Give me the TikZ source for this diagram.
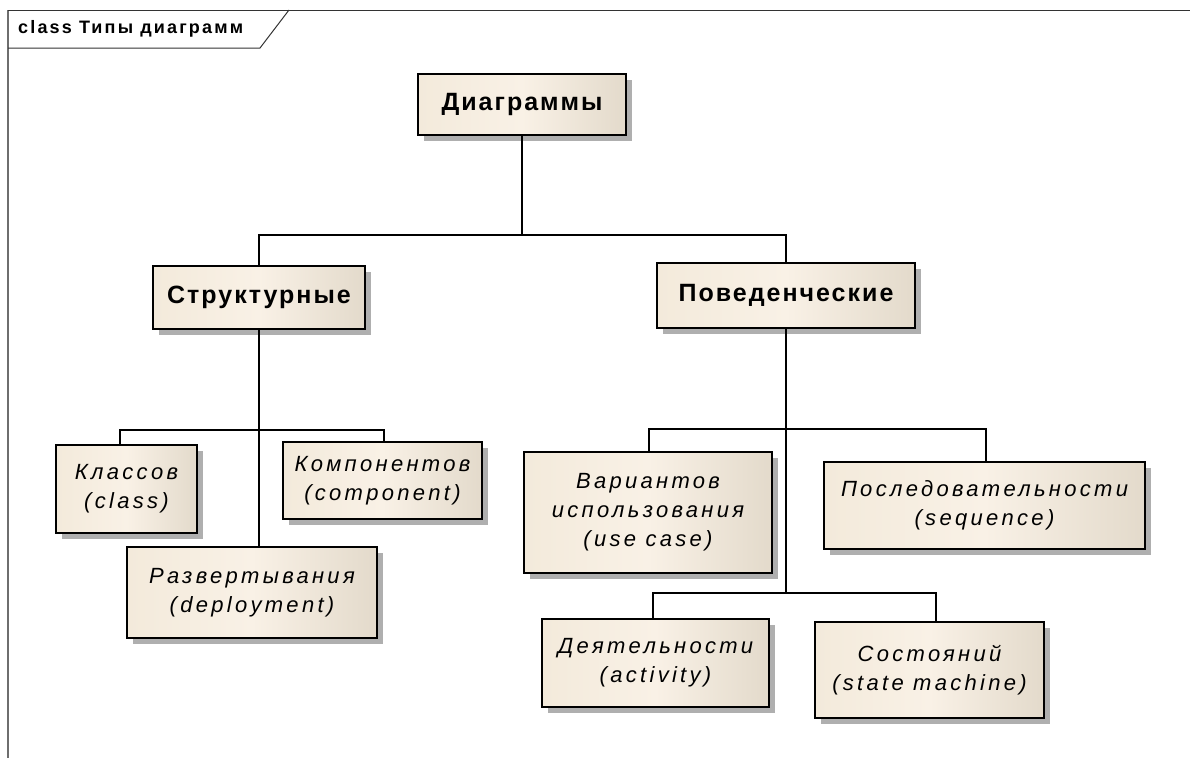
\documentclass[tikz,border=0pt]{standalone}
\usepackage{fontspec}
\setmainfont{Liberation Sans}
\newfontfamily\spfont[LetterSpace=8]{Liberation Sans}
\newfontfamily\ttlfont[LetterSpace=12]{Liberation Sans}
\newfontfamily\itfont[LetterSpace=15]{Liberation Sans}
\usetikzlibrary{shadows}
\definecolor{boxL}{HTML}{F3EADB}
\definecolor{boxM}{HTML}{F9F1E6}
\definecolor{boxR}{HTML}{E3DACB}
\definecolor{shad}{HTML}{AFAFAF}
\definecolor{frameg}{HTML}{6E6E6E}
\tikzset{
  umlbox/.style={draw=black, line width=1.6pt, left color=boxL, right color=boxR, middle color=boxM,
    drop shadow={shadow xshift=6pt, shadow yshift=-6pt, fill=shad, opacity=1},
    inner sep=0pt, align=center},
  boldbox/.style={umlbox, font=\spfont\bfseries\fontsize{25}{30}\selectfont},
  itbox/.style={umlbox, font=\itfont\itshape\fontsize{22}{29}\selectfont},
  conn/.style={draw=black, line width=1.6pt},
}
\begin{document}
\begin{tikzpicture}[x=1pt,y=-1pt]
\useasboundingbox (0,0) rectangle (1190,758);
% frame
\draw[frameg, line width=2pt] (8,10) -- (8,758);
\draw[black!80, line width=1pt] (8,10) -- (1190,10);
\draw[black!80, line width=1pt] (8,48) -- (260,48) -- (289,10);
\node[anchor=west, font=\ttlfont\bfseries\fontsize{18}{22}\selectfont, inner sep=0pt] (title) at (18,29) {class Типы диаграмм};
% nodes
\node[boldbox, minimum width=208pt, minimum height=61pt] (diag) at (522,104.5) {Диаграммы};
\node[boldbox, minimum width=212pt, minimum height=63pt] (struct) at (259,297.5) {Структурные};
\node[boldbox, minimum width=258pt, minimum height=65pt] (behav) at (786,295.5) {Поведенческие};
\node[itbox, minimum width=141pt, minimum height=88pt] (cls) at (126.5,489) {Классов\\(class)};
\node[itbox, minimum width=199pt, minimum height=77pt] (comp) at (382.5,480.5) {Компонентов\\(component)};
\node[itbox, minimum width=250pt, minimum height=91pt] (deploy) at (252,592.5) {Развертывания\\(deployment)};
\node[itbox, minimum width=248pt, minimum height=121pt] (uc) at (648,512.5) {Вариантов\\использования\\(use case)};
\node[itbox, minimum width=321pt, minimum height=87pt] (seq) at (984.5,505.5) {Последовательности\\(sequence)};
\node[itbox, minimum width=227pt, minimum height=88pt] (act) at (655.5,663) {Деятельности\\(activity)};
\node[itbox, minimum width=229pt, minimum height=96pt] (state) at (929.5,670) {Состояний\\(state machine)};
% junction coordinates
\coordinate (j0) at (522,235);
\coordinate (jSL) at (120,430);
\coordinate (jSR) at (384,430);
\coordinate (jBL) at (649,429);
\coordinate (jBR) at (986,429);
\coordinate (jB) at (786,593);
\coordinate (jAL) at (653,593);
\coordinate (jAR) at (936,593);
% connectors
\draw[conn] (diag.south) -- (j0);
\draw[conn] (struct.north) |- (j0) -| (behav.north);
\draw[conn] (struct.south) -- (struct.south |- deploy.north);
\draw[conn] (cls.north -| jSL) -- (jSL) -- (jSR) -- (comp.north -| jSR);
\draw[conn] (behav.south) -- (jB);
\draw[conn] (uc.north -| jBL) -- (jBL) -- (jBR) -- (seq.north -| jBR);
\draw[conn] (act.north -| jAL) -- (jAL) -- (jAR) -- (state.north -| jAR);
\end{tikzpicture}
\end{document}
